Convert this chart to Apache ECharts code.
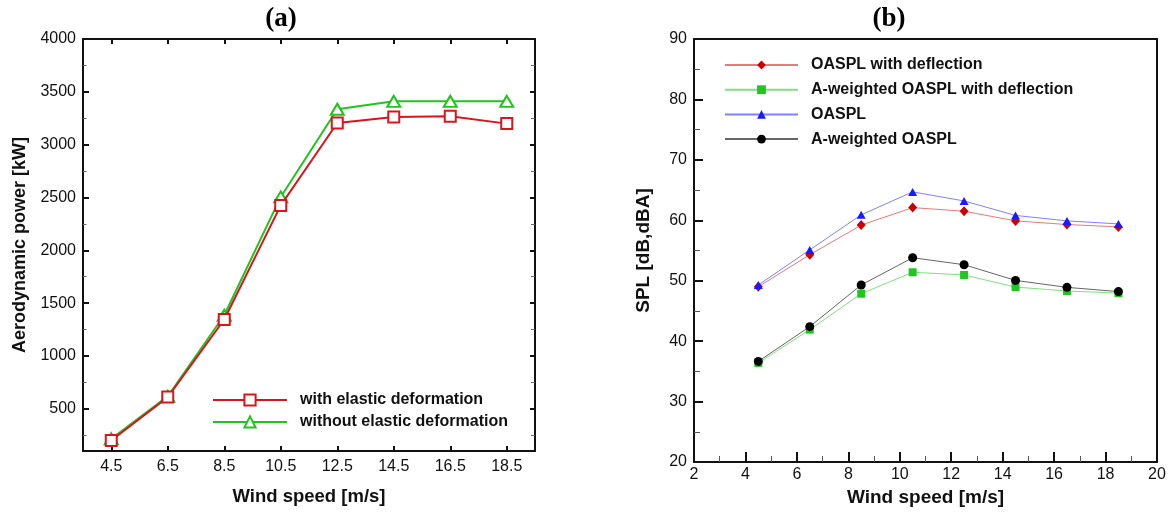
<!DOCTYPE html>
<html>
<head>
<meta charset="utf-8">
<script src="https://cdn.jsdelivr.net/npm/echarts@6/dist/echarts.min.js"></script>
<style>
  html, body { margin: 0; padding: 0; background: #fff; }
  #chart { width: 1172px; height: 512px; }
</style>
</head>
<body>
<div id="chart"></div>
<script>
// (a) aerodynamic power vs wind speed
const windCats = ['4.5', '6.5', '8.5', '10.5', '12.5', '14.5', '16.5', '18.5'];
const powerWithElastic = [200, 610, 1345, 2425, 3205, 3262, 3268, 3199];
const powerWithoutElastic = [215, 618, 1385, 2505, 3335, 3410, 3410, 3410];
const powerMajorTicks = [500, 1000, 1500, 2000, 2500, 3000, 3500, 4000];
const powerMinorTicks = [250, 750, 1250, 1750, 2250, 2750, 3250, 3750];

// (b) sound pressure level vs wind speed
const windSpeed = [4.5, 6.5, 8.5, 10.5, 12.5, 14.5, 16.5, 18.5];
const oasplDeflection = [49.0, 54.3, 59.2, 62.1, 61.5, 59.9, 59.3, 58.9];
const aWeightedDeflection = [36.4, 41.9, 47.85, 51.4, 50.95, 48.95, 48.3, 47.95];
const oaspl = [49.3, 55.1, 60.9, 64.7, 63.2, 60.8, 59.9, 59.4];
const aWeighted = [36.65, 42.4, 49.3, 53.8, 52.65, 50.05, 48.9, 48.2];

const SANS = '"Liberation Sans", Arial, sans-serif';
const SERIF = '"Liberation Serif", "Times New Roman", serif';
const INK = '#111';
const RED = '#d6161c';
const GREEN = '#20c41c';

const frameLine = { show: true, lineStyle: { color: INK, width: 2 } };
const tickLabel = { color: INK, fontSize: 16, fontFamily: SANS, formatter: (v) => String(v) };

const pair = (xs, ys) => xs.map((x, i) => [x, ys[i]]);

const chart = echarts.init(document.getElementById('chart'), null, { renderer: 'canvas' });

chart.setOption({
  backgroundColor: '#fff',
  animation: false,
  title: [
    { text: '(a)', left: 276, top: 1, textAlign: 'center',
      textStyle: { fontFamily: SERIF, fontWeight: 'bold', fontSize: 27, color: '#000' } },
    { text: '(b)', left: 884, top: 1, textAlign: 'center',
      textStyle: { fontFamily: SERIF, fontWeight: 'bold', fontSize: 27, color: '#000' } }
  ],
  grid: [
    { left: 83, top: 39, width: 452, height: 412, containLabel: false },
    { left: 694, top: 39, width: 463, height: 423, containLabel: false }
  ],
  legend: [
    {
      data: ['with elastic deformation', 'without elastic deformation'],
      orient: 'vertical', left: 212, top: 392, padding: 0,
      itemWidth: 74, itemHeight: 14, itemGap: 6,
      textStyle: { fontFamily: SANS, fontWeight: 'bold', fontSize: 16, color: INK, padding: [0, 0, 0, 8] }
    },
    {
      data: ['OASPL with deflection', 'A-weighted OASPL with deflection', 'OASPL', 'A-weighted OASPL'],
      orient: 'vertical', left: 724, top: 57, padding: 0,
      itemWidth: 73, itemHeight: 11, itemGap: 8.7,
      textStyle: { fontFamily: SANS, fontWeight: 'bold', fontSize: 16, color: INK, padding: [0, 0, 0, 8] }
    }
  ],
  xAxis: [
    // (a) bottom
    {
      gridIndex: 0, type: 'category', data: windCats, boundaryGap: true, position: 'bottom',
      name: 'Wind speed [m/s]', nameLocation: 'middle', nameGap: 36,
      nameTextStyle: { fontFamily: SANS, fontWeight: 'bold', fontSize: 18.5, color: INK },
      axisLine: frameLine,
      axisTick: { show: true, inside: true, alignWithLabel: true, length: 5, lineStyle: { color: INK, width: 2 } },
      axisLabel: { margin: 8, color: INK, fontSize: 16, fontFamily: SANS },
      splitLine: { show: false }
    },
    // (a) top frame
    {
      gridIndex: 0, type: 'category', data: windCats, boundaryGap: true, position: 'top',
      axisLine: frameLine,
      axisTick: { show: true, inside: true, alignWithLabel: true, length: 5, lineStyle: { color: INK, width: 2 } },
      axisLabel: { show: false }, splitLine: { show: false }
    },
    // (b) bottom
    {
      gridIndex: 1, type: 'value', min: 2, max: 20, interval: 2, position: 'bottom',
      name: 'Wind speed [m/s]', nameLocation: 'middle', nameGap: 25,
      nameTextStyle: { fontFamily: SANS, fontWeight: 'bold', fontSize: 19, color: INK },
      axisLine: frameLine,
      axisTick: { show: true, inside: true, length: 10, lineStyle: { color: INK, width: 2 } },
      minorTick: { show: true, splitNumber: 2, length: 6, lineStyle: { color: '#555', width: 1 } },
      axisLabel: Object.assign({ margin: 5 }, tickLabel),
      splitLine: { show: false }
    },
    // (b) top frame
    {
      gridIndex: 1, type: 'value', min: 2, max: 20, interval: 2, position: 'top',
      axisLine: frameLine, axisTick: { show: false }, axisLabel: { show: false }, splitLine: { show: false }
    }
  ],
  yAxis: [
    // (a) left, major ticks and labels
    {
      gridIndex: 0, type: 'value', min: 100, max: 4000, position: 'left',
      name: 'Aerodynamic power [kW]', nameLocation: 'middle', nameGap: 54,
      nameTextStyle: { fontFamily: SANS, fontWeight: 'bold', fontSize: 18, color: INK },
      axisLine: frameLine,
      axisTick: { show: true, inside: true, length: 6, customValues: powerMajorTicks, lineStyle: { color: INK, width: 2 } },
      axisLabel: Object.assign({ margin: 7, customValues: powerMajorTicks }, tickLabel),
      splitLine: { show: false }
    },
    // (a) left, minor ticks
    {
      gridIndex: 0, type: 'value', min: 100, max: 4000, position: 'left',
      axisLine: { show: false },
      axisTick: { show: true, inside: true, length: 3.5, customValues: powerMinorTicks, lineStyle: { color: '#666', width: 1 } },
      axisLabel: { show: false }, splitLine: { show: false }
    },
    // (a) right frame, major ticks
    {
      gridIndex: 0, type: 'value', min: 100, max: 4000, position: 'right',
      axisLine: frameLine,
      axisTick: { show: true, inside: true, length: 5, customValues: powerMajorTicks, lineStyle: { color: INK, width: 2 } },
      axisLabel: { show: false }, splitLine: { show: false }
    },
    // (a) right frame, minor ticks
    {
      gridIndex: 0, type: 'value', min: 100, max: 4000, position: 'right',
      axisLine: { show: false },
      axisTick: { show: true, inside: true, length: 4, customValues: powerMinorTicks, lineStyle: { color: '#666', width: 1 } },
      axisLabel: { show: false }, splitLine: { show: false }
    },
    // (b) left
    {
      gridIndex: 1, type: 'value', min: 20, max: 90, interval: 10, position: 'left',
      name: 'SPL [dB,dBA]', nameLocation: 'middle', nameGap: 41,
      nameTextStyle: { fontFamily: SANS, fontWeight: 'bold', fontSize: 19, color: INK },
      axisLine: frameLine,
      axisTick: { show: true, inside: true, length: 9, lineStyle: { color: INK, width: 2 } },
      minorTick: { show: true, splitNumber: 2, length: 6, lineStyle: { color: '#555', width: 1 } },
      axisLabel: Object.assign({ margin: 7 }, tickLabel),
      splitLine: { show: false }
    },
    // (b) right frame
    {
      gridIndex: 1, type: 'value', min: 20, max: 90, interval: 10, position: 'right',
      axisLine: frameLine, axisTick: { show: false }, axisLabel: { show: false }, splitLine: { show: false }
    }
  ],
  series: [
    {
      name: 'with elastic deformation', type: 'line', xAxisIndex: 0, yAxisIndex: 0,
      data: powerWithElastic, symbol: 'emptyRect', symbolSize: 11,
      lineStyle: { color: RED, width: 2 }, itemStyle: { color: RED, borderWidth: 2 }, z: 3
    },
    {
      name: 'without elastic deformation', type: 'line', xAxisIndex: 0, yAxisIndex: 0,
      data: powerWithoutElastic, symbol: 'emptyTriangle', symbolSize: [13, 11],
      lineStyle: { color: GREEN, width: 2 }, itemStyle: { color: GREEN, borderWidth: 2 }, z: 2
    },
    {
      name: 'OASPL with deflection', type: 'line', xAxisIndex: 2, yAxisIndex: 4,
      data: pair(windSpeed, oasplDeflection), symbol: 'diamond', symbolSize: [9, 10],
      lineStyle: { color: '#e77a7a', width: 1 }, itemStyle: { color: '#d10000' }
    },
    {
      name: 'A-weighted OASPL with deflection', type: 'line', xAxisIndex: 2, yAxisIndex: 4,
      data: pair(windSpeed, aWeightedDeflection), symbol: 'rect', symbolSize: 8,
      lineStyle: { color: '#7fe07f', width: 1 }, itemStyle: { color: '#1ec81e' }
    },
    {
      name: 'OASPL', type: 'line', xAxisIndex: 2, yAxisIndex: 4,
      data: pair(windSpeed, oaspl), symbol: 'triangle', symbolSize: [9, 8],
      lineStyle: { color: '#8080ff', width: 1 }, itemStyle: { color: '#1a1aff' }
    },
    {
      name: 'A-weighted OASPL', type: 'line', xAxisIndex: 2, yAxisIndex: 4,
      data: pair(windSpeed, aWeighted), symbol: 'circle', symbolSize: 9,
      lineStyle: { color: '#666', width: 1 }, itemStyle: { color: '#000' }
    }
  ]
});
</script>
</body>
</html>
